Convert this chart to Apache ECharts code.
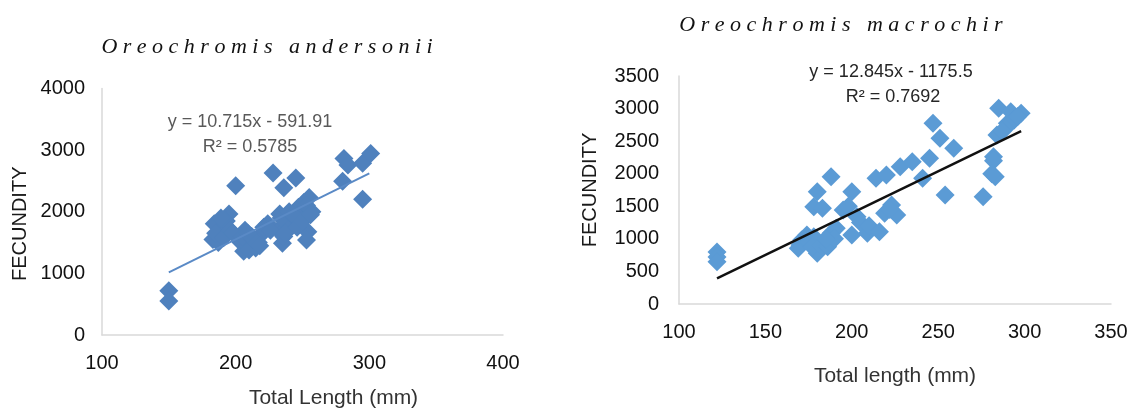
<!DOCTYPE html>
<html>
<head>
<meta charset="utf-8">
<script src="https://cdn.jsdelivr.net/npm/echarts@6.0.0/dist/echarts.min.js"></script>
<style>
  html, body { margin: 0; padding: 0; background: #fff; }
  #chart { width: 1131px; height: 414px; }
</style>
</head>
<body>
<div id="chart"></div>
<script>
// Oreochromis andersonii: total length (mm) vs fecundity
const andersoniiLength = [150, 150, 183, 184, 186, 188, 190, 192, 195, 193, 187, 200,
  204, 206, 207, 209, 212, 215, 217, 220, 222, 224, 228, 236, 245,
  233, 235, 232, 236, 238, 240, 242, 245, 247, 249, 252, 251, 255, 257,
  254, 253, 280, 281, 284, 295, 301, 295,
  185, 189, 191, 196, 198, 205, 210, 213, 218, 221, 226, 234, 237, 240, 243, 246, 250, 253, 256, 209];
const andersoniiFecundity = [720, 550, 1550, 1806, 1595, 1700, 1650, 1750, 1965, 1850, 1500, 2420,
  1500, 1357, 1700, 1450, 1600, 1410, 1500, 1650, 1700, 1806, 2627, 2389, 2548,
  1965, 1489, 1701, 1600, 1750, 1850, 1806, 1900, 2071, 2000, 1913, 2150, 2230, 2000,
  1675, 1543, 2495, 2865, 2759, 2786, 2944, 2203,
  1650, 1900, 1580, 1700, 1650, 1600, 1380, 1550, 1450, 1750, 1700, 1900, 1650, 2000, 1950, 1750, 1850, 2100, 1950, 1650];
const andersoniiFit = [10.715, -591.91];   // slope, intercept
const andersoniiFitRange = [150, 300];

// Oreochromis macrochir
const macrochirLength = [122, 122, 122, 170, 171, 169, 174, 178, 180, 175, 177, 182, 186, 188, 191, 190, 185,
  178, 183, 180, 188, 195, 200, 200, 203, 205, 209, 198, 210,
  214, 220, 216, 219, 223, 226, 222,
  228, 235, 245, 241, 247, 251, 259, 254,
  276, 282, 282, 283, 281, 284, 285, 290, 292, 294, 298, 289, 296, 287];
const macrochirFecundity = [800, 720, 650, 906, 982, 855, 1060, 1033, 778, 950, 880, 900, 880, 1085, 1162, 1000, 1000,
  1494, 1469, 1724, 1954, 1443, 1724, 1059, 1340, 1250, 1085, 1500, 1200,
  1929, 1980, 1111, 1392, 1520, 1366, 1450,
  2108, 2185, 2237, 1929, 2774, 2544, 2390, 1673,
  1647, 2261, 2200, 1954, 2000, 2594, 3004, 2774, 2952, 2825, 2927, 2697, 2880, 2650];
const macrochirFit = [12.845, -1175.5];
const macrochirFitRange = [122, 298];

const zip = (xs, ys) => xs.map((x, i) => [x, ys[i]]);
const fitLine = (range, fit) => range.map(x => [x, fit[0] * x + fit[1]]);

const tickFont = { color: '#111', fontSize: 20, fontFamily: 'Liberation Sans', formatter: v => String(v) };
const nameFont = { color: '#333', fontSize: 21, fontFamily: 'Liberation Sans' };
const axisLine = { show: true, lineStyle: { color: '#d9d9d9', width: 1.5 } };

function valueAxis(idx, min, max, interval, name, extra) {
  return Object.assign({
    type: 'value', gridIndex: idx, min: min, max: max, interval: interval,
    name: name, nameLocation: 'middle',
    axisLine: axisLine, axisTick: { show: false }, splitLine: { show: false },
    axisLabel: Object.assign({ margin: 18 }, tickFont),
    nameTextStyle: nameFont
  }, extra);
}

const chart = echarts.init(document.getElementById('chart'));

const option = {
  animation: false,
  backgroundColor: '#fff',
  grid: [
    { left: 102, top: 88.5, width: 401, height: 252 },
    { left: 679, top: 76, width: 432, height: 228 }
  ],
  xAxis: [
    valueAxis(0, 100, 400, 100, 'Total Length (mm)', {
      nameGap: 53,
      nameTextStyle: Object.assign({}, nameFont, { padding: [0, 0, 0, 62] })
    }),
    valueAxis(1, 100, 350, 50, 'Total length (mm)', { nameGap: 62 })
  ],
  yAxis: [
    valueAxis(0, 0, 4000, 1000, 'FECUNDITY', {
      nameGap: 72,
      axisLabel: Object.assign({ margin: 17 }, tickFont),
      nameTextStyle: Object.assign({}, nameFont, { fontSize: 20, color: '#1a1a1a', padding: [0, 24, 0, 0] })
    }),
    valueAxis(1, 0, 3500, 500, 'FECUNDITY', {
      nameGap: 79,
      axisLabel: Object.assign({ margin: 20 }, tickFont),
      nameTextStyle: Object.assign({}, nameFont, { fontSize: 20, color: '#1a1a1a' })
    })
  ],
  graphic: [
    { type: 'text', x: 267, y: 47, style: { text: 'O r e o c h r o m i s   a n d e r s o n i i', font: 'italic 22px "Liberation Serif"', fill: '#111', align: 'center', verticalAlign: 'middle' } },
    { type: 'text', x: 841, y: 25, style: { text: 'O r e o c h r o m i s   m a c r o c h i r', font: 'italic 22px "Liberation Serif"', fill: '#111', align: 'center', verticalAlign: 'middle' } },
    { type: 'text', x: 250, y: 122, style: { text: 'y = 10.715x - 591.91', font: '18px "Liberation Sans"', fill: '#595959', align: 'center', verticalAlign: 'middle' } },
    { type: 'text', x: 250, y: 147, style: { text: 'R² = 0.5785', font: '18px "Liberation Sans"', fill: '#595959', align: 'center', verticalAlign: 'middle' } },
    { type: 'text', x: 891, y: 72, style: { text: 'y = 12.845x - 1175.5', font: '18px "Liberation Sans"', fill: '#262626', align: 'center', verticalAlign: 'middle' } },
    { type: 'text', x: 893, y: 97, style: { text: 'R² = 0.7692', font: '18px "Liberation Sans"', fill: '#262626', align: 'center', verticalAlign: 'middle' } }
  ],
  series: [
    {
      type: 'scatter', xAxisIndex: 0, yAxisIndex: 0,
      symbol: 'diamond', symbolSize: 19,
      itemStyle: { color: '#4f81bd', opacity: 1 },
      data: zip(andersoniiLength, andersoniiFecundity)
    },
    {
      type: 'line', xAxisIndex: 0, yAxisIndex: 0,
      showSymbol: false, silent: true,
      lineStyle: { color: '#5a8ac6', width: 2 },
      data: fitLine(andersoniiFitRange, andersoniiFit)
    },
    {
      type: 'scatter', xAxisIndex: 1, yAxisIndex: 1,
      symbol: 'diamond', symbolSize: 19,
      itemStyle: { color: '#5b9bd5', opacity: 1 },
      data: zip(macrochirLength, macrochirFecundity)
    },
    {
      type: 'line', xAxisIndex: 1, yAxisIndex: 1,
      showSymbol: false, silent: true,
      lineStyle: { color: '#111', width: 2.5 },
      data: fitLine(macrochirFitRange, macrochirFit)
    }
  ]
};

chart.setOption(option);
</script>
</body>
</html>
